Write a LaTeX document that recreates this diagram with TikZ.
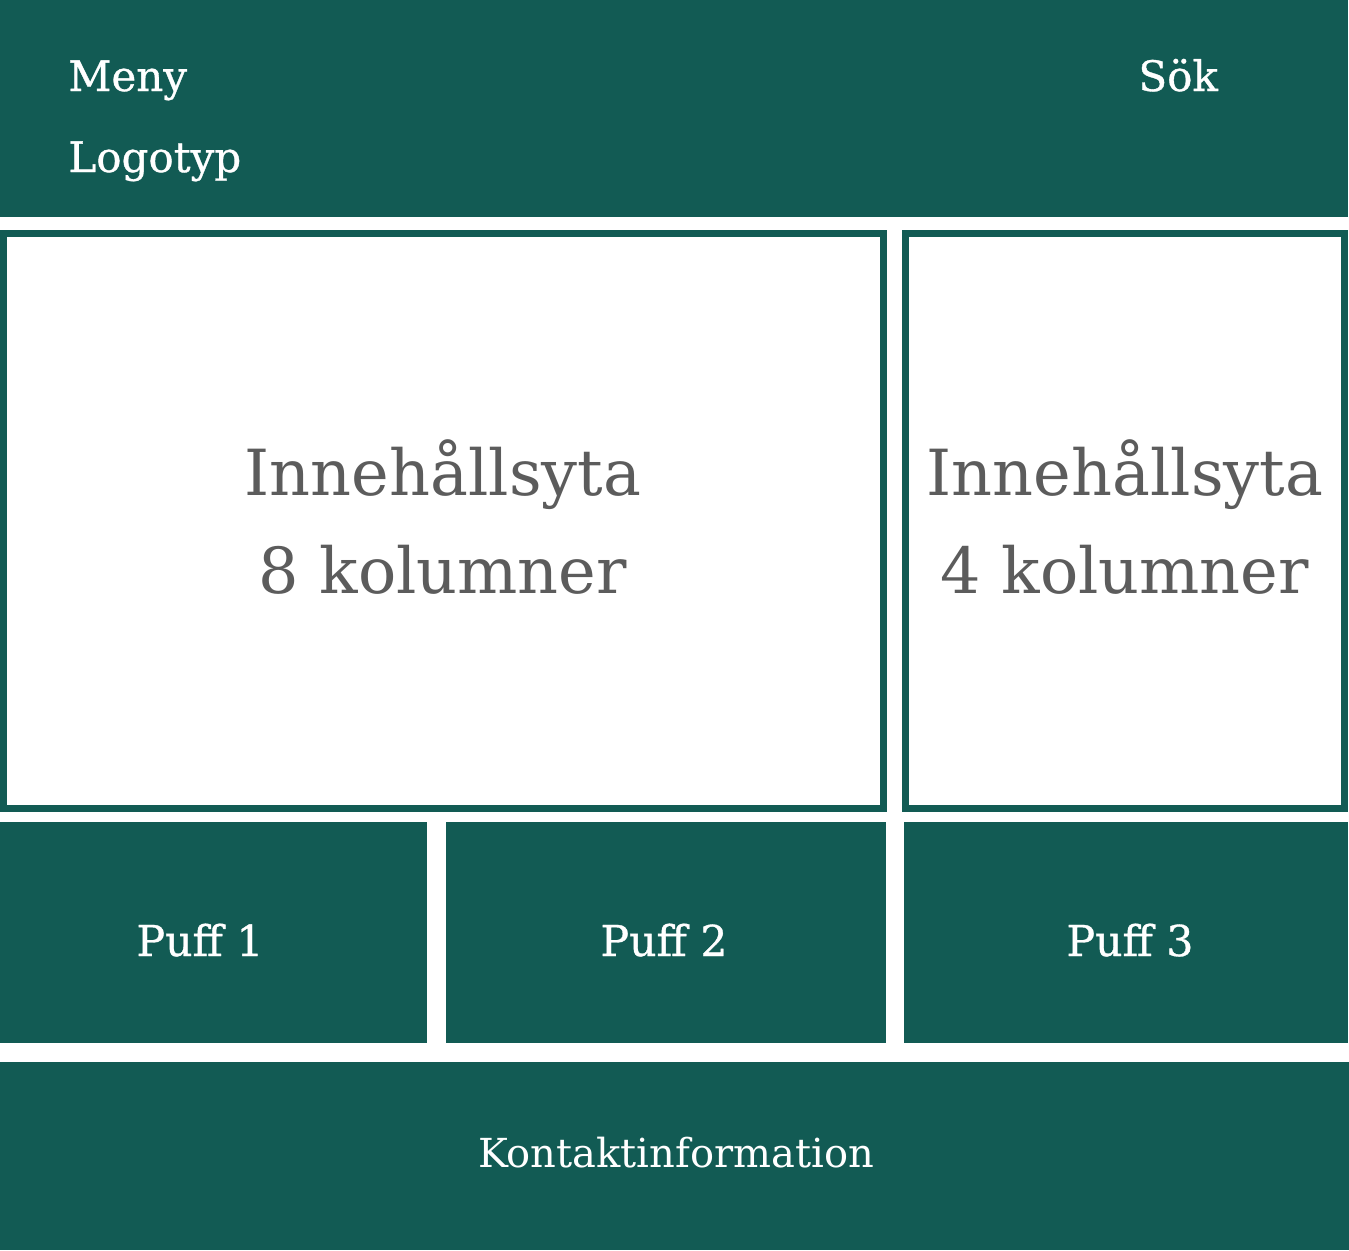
\documentclass[tikz,border=0pt]{standalone}
\usepackage{fontspec}
\setmainfont{DejaVu Serif}
\newfontfamily\medserif[FakeBold=0.8]{DejaVu Serif}
\definecolor{teal}{HTML}{125B54}
\definecolor{txtgray}{HTML}{5C5C5C}
\begin{document}
\begin{tikzpicture}[x=0.5pt,y=-0.5pt,
  block/.style={fill=teal,draw=none},
  outline/.style={draw=teal,line width=3.3pt,fill=white},
  headtext/.style={text=white,font=\medserif\fontsize{21}{25}\selectfont,inner sep=0pt,anchor=base west},
  pufftext/.style={text=white,font=\medserif\fontsize{21.3}{25}\selectfont,inner sep=0pt,anchor=base},
  foottext/.style={text=white,font=\fontsize{20}{24}\selectfont,inner sep=0pt,anchor=base},
  bigtext/.style={text=txtgray,font=\fontsize{31.8}{49}\selectfont,inner sep=0pt,align=center,anchor=base}]
\useasboundingbox (0,0) rectangle (1349,1250);
\fill[white] (0,0) rectangle (1349,1250);
% header
\fill[block] (0,0) rectangle (1348,217);
\node[headtext] (meny) at (68,91) {Meny};
\node[headtext] (logo) at (68,172) {Logotyp};
\node[headtext] (sok) at (1138,91) {Sök};
% content boxes
\draw[outline] (3.3,233.3) rectangle (883.7,808.7);
\draw[outline] (905.3,233.3) rectangle (1344.7,808.7);
\node[bigtext] (c8a) at (443,495) {Innehållsyta};
\node[bigtext] (c8b) at (443,593) {8 kolumner};
\node[bigtext] (c4a) at (1125,495) {Innehållsyta};
\node[bigtext] (c4b) at (1125,593) {4 kolumner};
% puffs
\fill[block] (0,822) rectangle (427,1043);
\fill[block] (446,822) rectangle (886,1043);
\fill[block] (904,822) rectangle (1348,1043);
\node[pufftext] (p1) at (200,956) {Puff 1};
\node[pufftext] (p2) at (664,956) {Puff 2};
\node[pufftext] (p3) at (1130,956) {Puff 3};
% footer
\fill[block] (0,1062) rectangle (1349,1250);
\node[foottext] (kontakt) at (676,1167) {Kontaktinformation};
\end{tikzpicture}
\end{document}
